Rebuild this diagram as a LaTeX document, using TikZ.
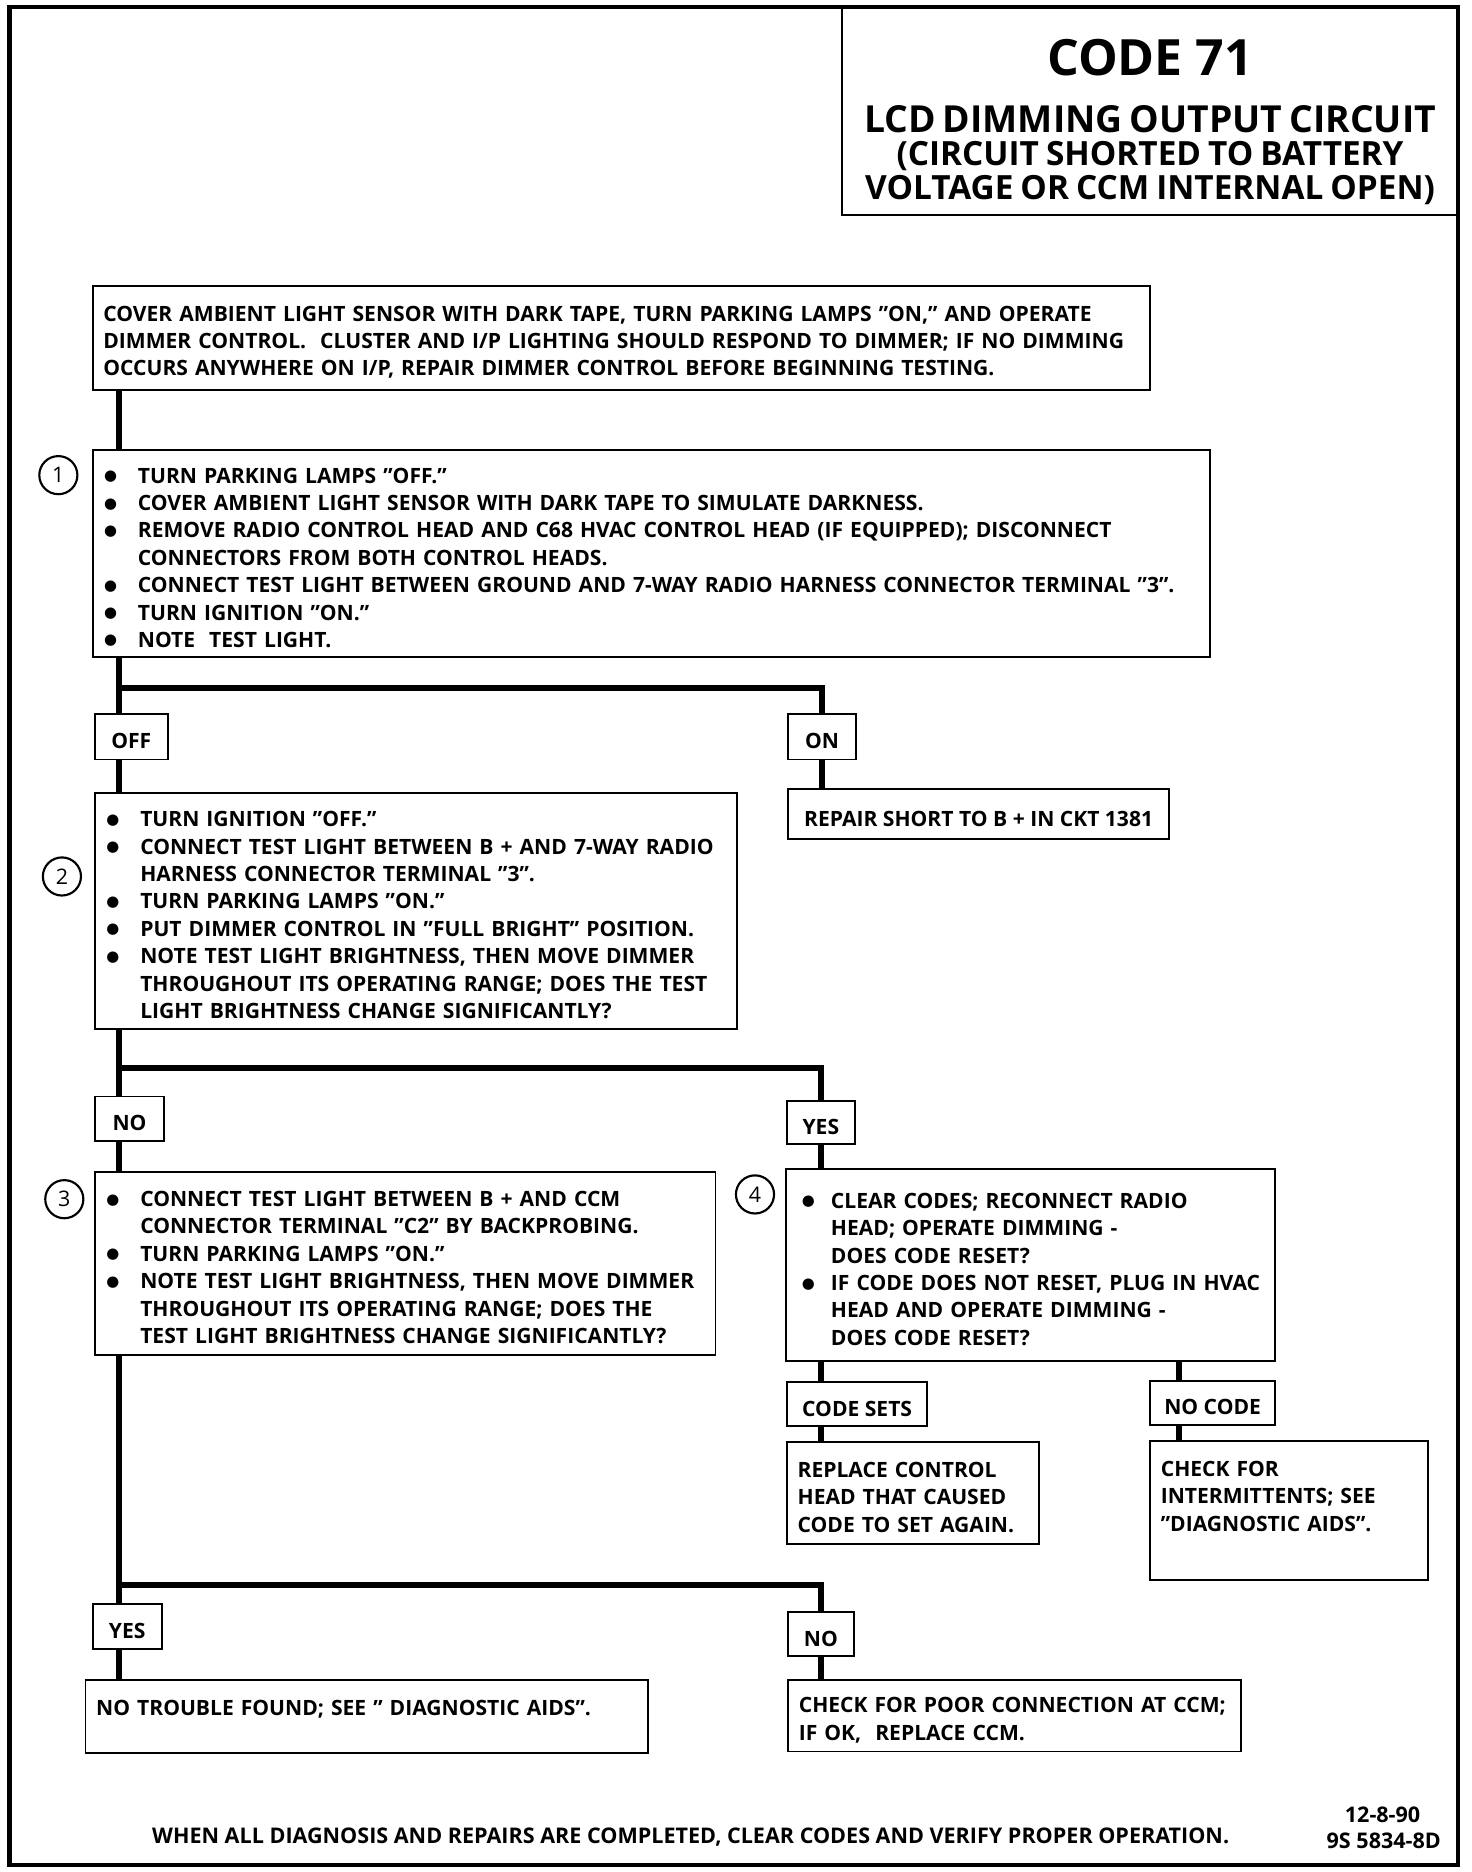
\documentclass[tikz,border=0pt]{standalone}
\usepackage{fontspec}
\setmainfont{Open Sans}
\newfontfamily\symfont{DejaVu Sans}

\newcommand{\chartfont}{\fontsize{17.7}{23}\selectfont\bfseries}
\newcommand{\dotmark}{\raisebox{2.1pt}{\symfont\fontsize{12.5}{13}\selectfont ●}}
\newcommand{\itm}[2][6pt]{\hangindent=29pt\hangafter=1\noindent
  \makebox[29pt][l]{\hspace*{#1}\makebox[0pt][c]{\dotmark}}#2\par}

\tikzset{
  stepbox/.style={draw, line width=1.6pt, anchor=north west, inner xsep=9pt,
    inner ysep=3pt, align=left, font=\chartfont,
    execute at begin node={\rule{0pt}{20pt}}},
  tagbox/.style={draw, line width=1.6pt, anchor=north west, inner sep=2pt,
    font=\chartfont, execute at begin node={\rule{0pt}{20pt}}},
  flow/.style={line width=5pt},
  numring/.style={circle, draw, line width=1.8pt, minimum size=32pt,
    inner sep=0pt, font=\fontsize{18}{20}\selectfont},
}

\begin{document}
\begin{tikzpicture}[x=1pt, y=-1pt]
  \useasboundingbox (0,0) rectangle (1236,1572);
  % frame
  \draw[line width=3.5pt] (8,6) rectangle (1224,1566);

  % coordinates
  \coordinate (trunk) at (100,0);
  \coordinate (rbranch) at (990,0);
  \coordinate (fork1) at (0,578);
  \coordinate (fork2) at (0,897);
  \coordinate (fork3) at (0,1331);

  % title
  \node[stepbox, align=center, minimum width=518pt, minimum height=174pt,
    text width=500pt] (title) at (706,6) {%
    {\fontsize{42}{48}\selectfont\rule{0pt}{48pt}CODE\hspace{5pt} 71\par}%
    {\fontsize{31.3}{47.5}\selectfont LCD DIMMING OUTPUT CIRCUIT\par}%
    {\fontsize{28}{28.2}\selectfont (CIRCUIT SHORTED TO BATTERY\\
      VOLTAGE OR CCM INTERNAL OPEN)\par}};

  % boxes
  \node[stepbox, minimum width=888pt, minimum height=88pt, text width=870pt]
    (intro) at (77,239) {COVER AMBIENT LIGHT SENSOR WITH DARK TAPE, TURN PARKING LAMPS "ON," AND OPERATE\\
    DIMMER CONTROL.~ CLUSTER AND I/P LIGHTING SHOULD RESPOND TO DIMMER; IF NO DIMMING\\
    OCCURS ANYWHERE ON I/P, REPAIR DIMMER CONTROL BEFORE BEGINNING TESTING.};
  \node[stepbox, minimum width=938pt, minimum height=174pt, text width=920pt]
    (step1) at (77,377) {%
    \itm{TURN PARKING LAMPS "OFF."}
    \itm{COVER AMBIENT LIGHT SENSOR WITH DARK TAPE TO SIMULATE DARKNESS.}
    \itm{REMOVE RADIO CONTROL HEAD AND C68 HVAC CONTROL HEAD (IF EQUIPPED); DISCONNECT\newline
      CONNECTORS FROM BOTH CONTROL HEADS.}
    \itm{CONNECT TEST LIGHT BETWEEN GROUND AND 7-WAY RADIO HARNESS CONNECTOR TERMINAL "3".}
    \itm{TURN IGNITION "ON."}
    \itm{NOTE~ TEST LIGHT.}};
  \node[stepbox, minimum width=539pt, minimum height=198pt, text width=521pt]
    (step2) at (79,665) {%
    \itm{TURN IGNITION "OFF."}
    \itm{CONNECT TEST LIGHT BETWEEN B + AND 7-WAY RADIO\newline
      HARNESS CONNECTOR TERMINAL "3".}
    \itm{TURN PARKING LAMPS "ON."}
    \itm{PUT DIMMER CONTROL IN "FULL BRIGHT" POSITION.}
    \itm{NOTE TEST LIGHT BRIGHTNESS, THEN MOVE DIMMER\newline
      THROUGHOUT ITS OPERATING RANGE; DOES THE TEST\newline
      LIGHT BRIGHTNESS CHANGE SIGNIFICANTLY?}};
  \node[stepbox, minimum width=320pt, minimum height=42pt]
    (repair) at (661,662) {REPAIR SHORT TO B + IN CKT 1381};
  \node[stepbox, minimum width=521pt, minimum height=154pt, text width=503pt]
    (step3) at (79,983) {%
    \itm{CONNECT TEST LIGHT BETWEEN B + AND CCM\newline
      CONNECTOR TERMINAL "C2" BY BACKPROBING.}
    \itm{TURN PARKING LAMPS "ON."}
    \itm{NOTE TEST LIGHT BRIGHTNESS, THEN MOVE DIMMER\newline
      THROUGHOUT ITS OPERATING RANGE; DOES THE\newline
      TEST LIGHT BRIGHTNESS CHANGE SIGNIFICANTLY?}};
  \node[stepbox, minimum width=411pt, minimum height=161pt, text width=393pt]
    (step4) at (659,981) {%
    \itm[10pt]{CLEAR CODES; RECONNECT RADIO\newline
      HEAD; OPERATE DIMMING -\newline
      DOES CODE RESET?}
    \itm[10pt]{IF CODE DOES NOT RESET, PLUG IN HVAC\newline
      HEAD AND OPERATE DIMMING -\newline
      DOES CODE RESET?}};
  \node[stepbox, minimum width=212pt, minimum height=86pt, text width=194pt]
    (replace) at (660,1210) {REPLACE CONTROL\\ HEAD THAT CAUSED\\ CODE TO SET AGAIN.};
  \node[stepbox, minimum width=233pt, minimum height=117pt, text width=215pt]
    (checkfor) at (965,1209) {CHECK FOR\\ INTERMITTENTS; SEE\\
    "DIAGNOSTIC AIDS".\rule[-31pt]{0pt}{31pt}};
  \node[stepbox, minimum width=472pt, minimum height=61pt, text width=454pt]
    (notrouble) at (71,1410) {NO TROUBLE FOUND; SEE " DIAGNOSTIC AIDS".\rule[-21pt]{0pt}{21pt}};
  \node[stepbox, minimum width=380pt, minimum height=60pt, text width=362pt]
    (checkpoor) at (661,1410) {CHECK FOR POOR CONNECTION AT CCM;\\ IF OK,~ REPLACE CCM.};

  % labels
  \node[tagbox, minimum width=61pt, minimum height=38pt] (off) at (79,599) {OFF};
  \node[tagbox, minimum width=57pt, minimum height=38pt] (on) at (661,599) {ON};
  \node[tagbox, minimum width=58pt, minimum height=37pt] (no1) at (79,920) {NO};
  \node[tagbox, minimum width=57pt, minimum height=36pt] (yes1) at (660,924) {YES};
  \node[tagbox, minimum width=118pt, minimum height=37pt] (codesets) at (660,1160) {CODE SETS};
  \node[tagbox, minimum width=105pt, minimum height=37pt] (nocode) at (965,1159) {NO CODE};
  \node[tagbox, minimum width=58pt, minimum height=38pt] (yes2) at (77,1346) {YES};
  \node[tagbox, minimum width=55pt, minimum height=37pt] (no2) at (661,1353) {NO};

  % step numbers
  \node[numring] (n1) at (49,399) {1};
  \node[numring] (n2) at (52,736) {2};
  \node[numring] (n3) at (54,1007) {3};
  \node[numring] (n4) at (634,1003) {4};

  % connectors
  \draw[flow] (intro.south -| trunk) -- (step1.north -| trunk);
  \draw[flow] (step1.south -| trunk) -- (off.north -| trunk);
  \draw[flow] (trunk |- fork1) -| (on.north);
  \draw[flow] (off.south -| trunk) -- (step2.north -| trunk);
  \draw[flow] (on.south) -- (repair.north -| on.south);
  \draw[flow] (step2.south -| trunk) -- (no1.north -| trunk);
  \draw[flow] (trunk |- fork2) -| (yes1.north);
  \draw[flow] (no1.south -| trunk) -- (step3.north -| trunk);
  \draw[flow] (yes1.south) -- (step4.north -| yes1.south);
  \draw[flow] (step3.south -| trunk) -- (yes2.north -| trunk);
  \draw[flow] (trunk |- fork3) -| (no2.north);
  \draw[flow] (yes2.south -| trunk) -- (notrouble.north -| trunk);
  \draw[flow] (no2.south) -- (checkpoor.north -| no2.south);
  \draw[flow] (step4.south -| yes1.south) -- (codesets.north -| yes1.south);
  \draw[flow] (codesets.south -| yes1.south) -- (replace.north -| yes1.south);
  \draw[flow] (step4.south -| rbranch) -- (nocode.north -| rbranch);
  \draw[flow] (nocode.south -| rbranch) -- (checkfor.north -| rbranch);

  % Text
  \node[font=\fontsize{18.1}{23}\selectfont\bfseries] (closing) at (580,1543)
    {WHEN ALL DIAGNOSIS AND REPAIRS ARE COMPLETED, CLEAR CODES AND VERIFY PROPER OPERATION.};
  \node[font=\fontsize{18.1}{23}\selectfont\bfseries] (datecode) at (1161,1524) {12-8-90};
  \node[font=\fontsize{18.1}{23}\selectfont\bfseries] (partno) at (1162,1546) {9S 5834-8D};
\end{tikzpicture}
\end{document}
